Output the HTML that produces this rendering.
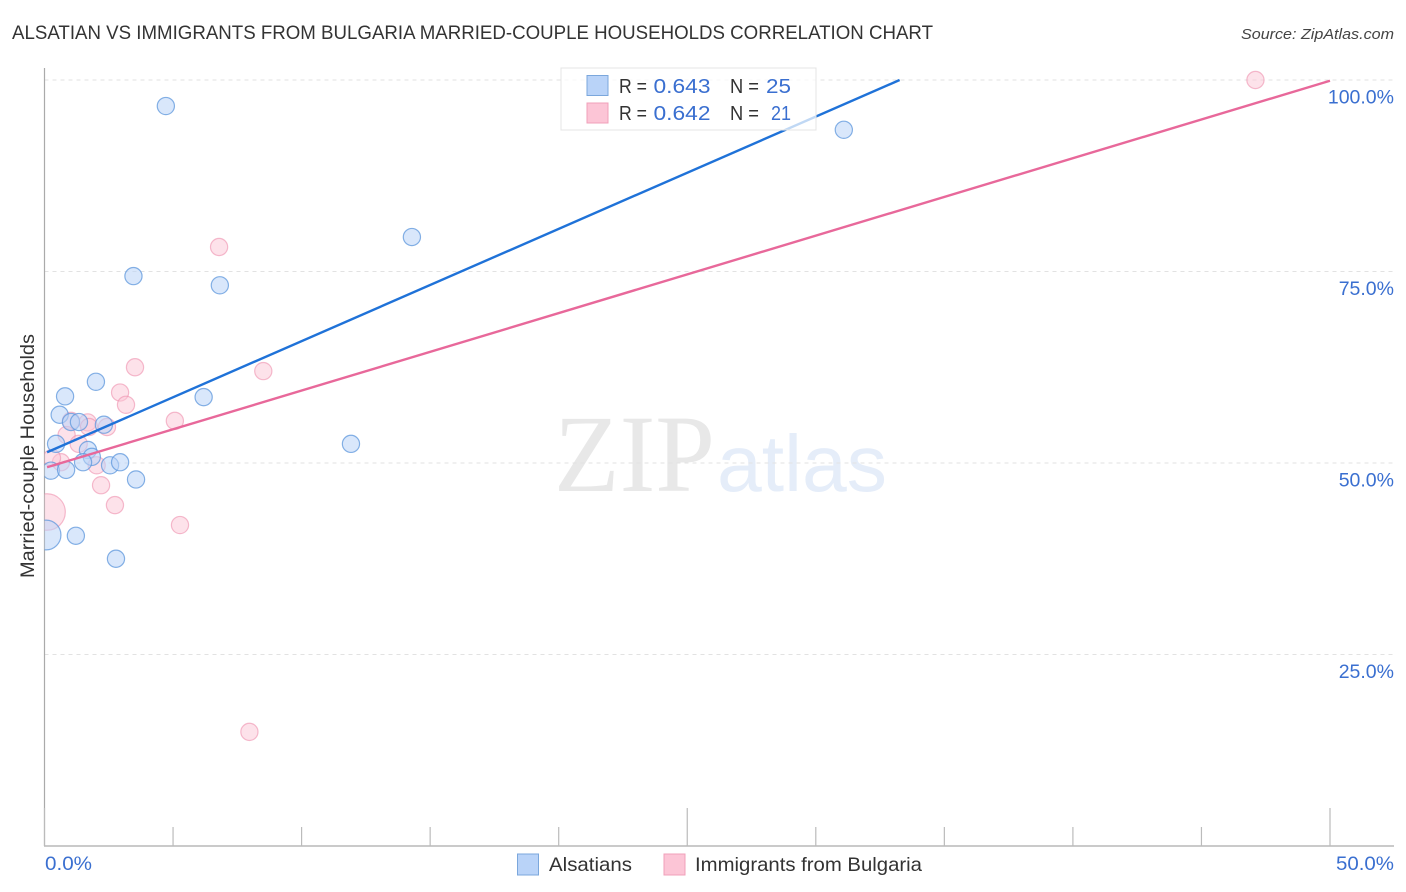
<!DOCTYPE html>
<html>
<head>
<meta charset="utf-8">
<style>
html,body{margin:0;padding:0;background:#fff;}
svg{display:block;font-family:"Liberation Sans",sans-serif;}
</style>
</head>
<body>
<svg id="chart" xmlns="http://www.w3.org/2000/svg" width="1406" height="892" viewBox="0 0 1406 892">
  <defs><clipPath id="plot-clip"><rect x="44.5" y="60" width="1350" height="786"/></clipPath></defs>
  <text x="12" y="39" font-size="19" fill="#333" textLength="921" lengthAdjust="spacingAndGlyphs">ALSATIAN VS IMMIGRANTS FROM BULGARIA MARRIED-COUPLE HOUSEHOLDS CORRELATION CHART</text>
  <text x="1241" y="39" font-size="15" font-style="italic" fill="#444" textLength="153" lengthAdjust="spacingAndGlyphs">Source: ZipAtlas.com</text>
  <g id="watermark">
    <text x="554" y="491" font-family="'Liberation Serif',serif" font-size="110" fill="#e8e8e8" textLength="161" lengthAdjust="spacingAndGlyphs">ZIP</text>
    <text x="717" y="491" font-size="80" fill="#e5edf9" textLength="170" lengthAdjust="spacingAndGlyphs">atlas</text>
  </g>
  <g id="grid"></g>
  <g id="axes"></g>
  <g id="points" clip-path="url(#plot-clip)"></g>
  <g id="lines"></g>
  <text transform="translate(34,456) rotate(-90)" font-size="19" fill="#333" text-anchor="middle" textLength="244" lengthAdjust="spacingAndGlyphs">Married-couple Households</text>
  <g>
    <rect x="561" y="68" width="255" height="62" fill="#fff" fill-opacity="0.72" stroke="#e4e4e4" stroke-width="1"/>
    <rect x="587" y="75.5" width="21" height="20" fill="#b9d3f8" stroke="#7ba7dc"/>
    <rect x="587" y="103" width="21" height="20" fill="#fcc5d6" stroke="#f0a0ba"/>
    <g font-size="20.5">
      <text x="619" y="93" fill="#333" textLength="28" lengthAdjust="spacingAndGlyphs">R =</text>
      <text x="653.5" y="93" fill="#3a6fd0" textLength="57" lengthAdjust="spacingAndGlyphs">0.643</text>
      <text x="730" y="93" fill="#333" textLength="29" lengthAdjust="spacingAndGlyphs">N =</text>
      <text x="766" y="93" fill="#3a6fd0" textLength="25" lengthAdjust="spacingAndGlyphs">25</text>
      <text x="619" y="120" fill="#333" textLength="28" lengthAdjust="spacingAndGlyphs">R =</text>
      <text x="653.5" y="120" fill="#3a6fd0" textLength="57" lengthAdjust="spacingAndGlyphs">0.642</text>
      <text x="730" y="120" fill="#333" textLength="29" lengthAdjust="spacingAndGlyphs">N =</text>
      <text x="771" y="120" fill="#3a6fd0" textLength="20" lengthAdjust="spacingAndGlyphs">21</text>
    </g>
  </g>
  <g>
    <rect x="517.5" y="854" width="21" height="21" fill="#b9d3f8" stroke="#7ba7dc"/>
    <text x="549" y="871" font-size="19.5" fill="#333" textLength="83" lengthAdjust="spacingAndGlyphs">Alsatians</text>
    <rect x="664" y="854" width="21" height="21" fill="#fcc5d6" stroke="#f0a0ba"/>
    <text x="695" y="871" font-size="19.5" fill="#333" textLength="227" lengthAdjust="spacingAndGlyphs">Immigrants from Bulgaria</text>
  </g>
</svg>
<script>
var yTickValues = [100, 75, 50, 25];
var yTickLabels = ["100.0%", "75.0%", "50.0%", "25.0%"];
var xTickValues = [0, 5, 10, 15, 20, 25, 30, 35, 40, 45, 50];
var xMajorTicks = [25, 50];
var xEndLabels = ["0.0%", "50.0%"];

var alsatiansX = [4.72, 31.09, 14.29, 3.46, 6.82, 2.0, 0.80, 6.19, 0.59, 1.03, 1.34, 2.31, 11.92, 0.45, 1.69, 1.84, 1.50, 2.55, 2.94, 0.25, 0.84, 3.56, 1.22, 2.78, 0.06];
var alsatiansY = [96.6, 93.5, 79.5, 74.4, 73.2, 60.6, 58.7, 58.6, 56.3, 55.35, 55.35, 55.0, 52.5, 52.5, 51.7, 50.8, 50.1, 49.7, 50.1, 49.0, 49.1, 47.85, 40.5, 37.5, 40.6];
var alsatiansWeight = [1, 1, 1, 1, 1, 1, 1, 1, 1, 1, 1, 1, 1, 1, 1, 1, 1, 1, 1, 1, 1, 1, 1, 1, 3];

var bulgariaX = [47.1, 6.79, 3.52, 8.51, 2.94, 3.17, 5.07, 1.03, 1.68, 1.73, 2.43, 0.86, 1.33, 0.64, 0.29, 2.03, 2.2, 2.74, 5.27, 0.1, 7.97];
var bulgariaY = [100, 78.2, 62.5, 62.0, 59.2, 57.6, 55.5, 55.5, 55.3, 54.7, 54.7, 53.65, 52.5, 50.1, 50.65, 49.7, 47.1, 44.5, 41.9, 43.6, 14.9];
var bulgariaWeight = [1, 1, 1, 1, 1, 1, 1, 1, 1, 1, 1, 1, 1, 1, 1, 1, 1, 1, 1, 4.5, 1];

var alsatiansTrendX = [0.1, 33.26];
var alsatiansTrendY = [51.4, 100];
var bulgariaTrendX = [0.1, 50];
var bulgariaTrendY = [49.45, 99.9];

var NS = 'http://www.w3.org/2000/svg';
function sx(v) { return 44.5 + v * 25.71; }
function sy(v) { return 846 - v * 7.66; }
function rad(w) { return 8.6 * Math.sqrt(w); }
function make(tag, parent, attrs) {
  var el = document.createElementNS(NS, tag);
  for (var k in attrs) el.setAttribute(k, attrs[k]);
  parent.appendChild(el);
  return el;
}
var grid = document.getElementById('grid');
var axes = document.getElementById('axes');
var pts = document.getElementById('points');
var lines = document.getElementById('lines');

yTickValues.forEach(function (v, i) {
  var g = make('line', grid, {x1: 44.5, x2: 1394, y1: sy(v), y2: sy(v), stroke: '#e2e2e2', 'stroke-width': 1, 'stroke-dasharray': '4 4'});
  
  
  var t = make('text', axes, {x: 1394, y: sy(v) + 23.5, 'font-size': 19.5, fill: '#3a6fd0', 'text-anchor': 'end'});
  t.textContent = yTickLabels[i];
  
  
});

var yAxis = make('line', axes, {x1: 44.5, x2: 44.5, y1: 68, y2: 846, stroke: '#aaa', 'stroke-width': 1.2});


var xAxis = make('line', axes, {x1: 44, x2: 1394, y1: 846, y2: 846, stroke: '#aaa', 'stroke-width': 1.2});



xTickValues.forEach(function (v) {
  var top = (xMajorTicks.indexOf(v) >= 0 || v === 0) ? 808 : 827;
  var tick = make('line', axes, {x1: sx(v), x2: sx(v), y1: top, y2: 846, stroke: '#bbb', 'stroke-width': 1.2});
  
  
});

var x0 = make('text', axes, {x: 45, y: 870, 'font-size': 19.5, fill: '#3a6fd0', textLength: 47, lengthAdjust: 'spacingAndGlyphs'});
x0.textContent = xEndLabels[0];


var x1 = make('text', axes, {x: 1336, y: 870, 'font-size': 19.5, fill: '#3a6fd0', textLength: 58, lengthAdjust: 'spacingAndGlyphs'});
x1.textContent = xEndLabels[1];



bulgariaX.forEach(function (v, i) {
  var c = make('circle', pts, {cx: sx(v), cy: sy(bulgariaY[i]), r: rad(bulgariaWeight[i]), fill: '#fcc5d6', 'fill-opacity': 0.5, stroke: '#ee8fae', 'stroke-opacity': 0.6, 'stroke-width': 1.2});
  
  
});
alsatiansX.forEach(function (v, i) {
  var c = make('circle', pts, {cx: sx(v), cy: sy(alsatiansY[i]), r: rad(alsatiansWeight[i]), fill: '#b9d3f8', 'fill-opacity': 0.55, stroke: '#5e97dc', 'stroke-opacity': 0.75, 'stroke-width': 1.2});
  
  
});

var l1 = make('line', lines, {x1: sx(alsatiansTrendX[0]), y1: sy(alsatiansTrendY[0]), x2: sx(alsatiansTrendX[1]), y2: sy(alsatiansTrendY[1]), stroke: '#1f72d8', 'stroke-width': 2.4});


var l2 = make('line', lines, {x1: sx(bulgariaTrendX[0]), y1: sy(bulgariaTrendY[0]), x2: sx(bulgariaTrendX[1]), y2: sy(bulgariaTrendY[1]), stroke: '#e8689a', 'stroke-width': 2.4});


</script>
</body>
</html>
